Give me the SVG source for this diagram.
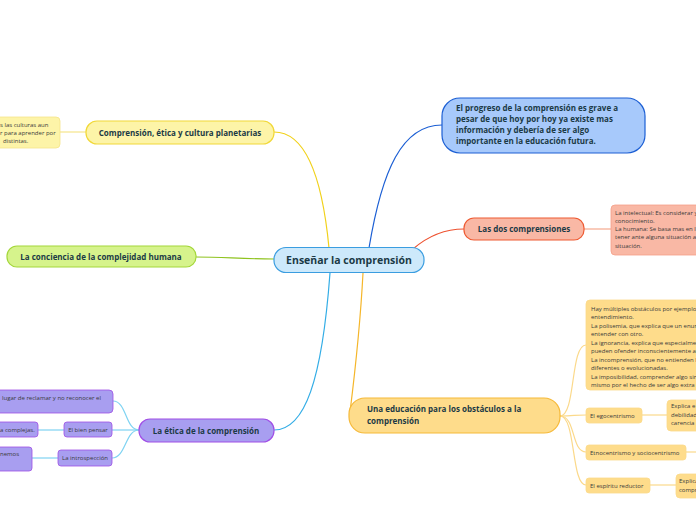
<svg xmlns="http://www.w3.org/2000/svg" width="696" height="520" viewBox="0 0 696 520">
<style>
text{font-family:"Open Sans","Noto Sans","Liberation Sans",sans-serif;}
.b{font-weight:bold;font-size:8px;fill:#1b3a45;}
.s{font-size:6px;fill:#3a3a3a;}
.c{fill:none;stroke-width:1.2;}
</style>
<rect width="696" height="520" fill="#ffffff"/>
<g id="connectors">
<path class="c" stroke="#1c5fd4" d="M369,248 C382,170 402,125 442,125"/>
<path class="c" stroke="#f1d11a" d="M329,248 C322,175 305,132 274,132"/>
<path class="c" stroke="#ee5230" d="M413,249 C428,236 444,229 464,229"/>
<path class="c" stroke="#8fc31f" d="M274,259 C240,259 225,257 196,257"/>
<path class="c" stroke="#33ade6" d="M330,273 C322,380 305,430 274,430"/>
<path class="c" stroke="#f5b62a" d="M363,273 C360,330 354,380 350,412"/>
<path class="c" stroke="#f5e48a" d="M86,132 L60,132"/>
<path class="c" stroke="#f6a88e" d="M584,229 L611,229"/>
<path class="c" stroke="#fbd98a" d="M560,416 C576,416 570,345 586,345"/>
<path class="c" stroke="#fbd98a" d="M560,416 C574,416 574,415 586,415"/>
<path class="c" stroke="#fbd98a" d="M560,416 C576,416 571,452 586,452"/>
<path class="c" stroke="#fbd98a" d="M560,416 C576,416 571,485 586,485"/>
<path class="c" stroke="#fbd98a" d="M642,415 L667,415"/>
<path class="c" stroke="#fbd98a" d="M686,452 L696,452"/>
<path class="c" stroke="#fbd98a" d="M650,485 L676,485"/>
<path class="c" stroke="#7fd3f2" d="M139,430 C125,430 127,401 113,401"/>
<path class="c" stroke="#7fd3f2" d="M139,430 L112,430"/>
<path class="c" stroke="#7fd3f2" d="M139,430 C125,430 126,458 112,458"/>
<path class="c" stroke="#7fd3f2" d="M64,430 L38,430"/>
<path class="c" stroke="#7fd3f2" d="M58,458 L32,458"/>
</g>
<g id="center">
<rect x="274" y="247.5" width="150" height="25" rx="12" fill="#cde9fb" stroke="#3a9de0" stroke-width="1.2"/>
<text x="349" y="264" text-anchor="middle" font-weight="bold" font-size="10.5" fill="#1b3a45">Enseñar la comprensión</text>
</g>
<g id="n-progreso">
<rect x="442" y="98" width="203" height="55" rx="18" fill="#a7c9fb" stroke="#1c5fd4" stroke-width="1.2"/>
<text class="b" x="456" y="111">El progreso de la comprensión es grave a</text>
<text class="b" x="456" y="122">pesar de que hoy por hoy ya existe mas</text>
<text class="b" x="456" y="133">información y debería de ser algo</text>
<text class="b" x="456" y="144">importante en la educación futura.</text>
</g>
<g id="n-dos">
<rect x="464" y="218" width="120" height="22" rx="10" fill="#f9b8a5" stroke="#ee5a32" stroke-width="1.2"/>
<text class="b" x="524" y="232" text-anchor="middle">Las dos comprensiones</text>
</g>
<g id="n-dos-txt">
<rect x="611" y="205" width="95" height="50" rx="4" fill="#f9b8a5" stroke="#f5a088" stroke-width="0.8"/>
<text class="s" x="615" y="215">La intelectual: Es considerar y</text>
<text class="s" x="615" y="223">conocimiento.</text>
<text class="s" x="615" y="231">La humana: Se basa mas en l</text>
<text class="s" x="615" y="239">tener ante alguna situación a</text>
<text class="s" x="615" y="248">situación.</text>
</g>
<g id="n-planetarias">
<rect x="86" y="121" width="188" height="23" rx="11" fill="#fdf4a8" stroke="#f1d838" stroke-width="1.2"/>
<text class="b" x="180" y="135.5" text-anchor="middle">Comprensión, ética y cultura planetarias</text>
</g>
<g id="n-planetarias-txt">
<rect x="-10" y="117" width="70" height="31" rx="4" fill="#fdf4a8" stroke="#f5e48a" stroke-width="0.8"/>
<text class="s" x="0" y="127">s las culturas aun</text>
<text class="s" x="0" y="135">r para aprender por</text>
<text class="s" x="3" y="143">distintas.</text>
</g>
<g id="n-conciencia">
<rect x="7" y="246" width="189" height="21" rx="10" fill="#d6f38c" stroke="#a4d73a" stroke-width="1.2"/>
<text class="b" x="101" y="259.5" text-anchor="middle">La conciencia de la complejidad humana</text>
</g>
<g id="n-etica">
<rect x="139" y="419" width="135" height="23" rx="11" fill="#a89ef0" stroke="#a04fe6" stroke-width="1.2"/>
<text class="b" x="206" y="433.5" text-anchor="middle">La ética de la comprensión</text>
</g>
<g id="n-reclamar">
<rect x="-10" y="390" width="123" height="23" rx="4" fill="#a89ef0" stroke="#a04fe6" stroke-width="0.8"/>
<text class="s" x="2" y="400">lugar de reclamar y no reconocer el</text>
</g>
<g id="n-bien">
<rect x="64" y="422" width="48" height="15" rx="3" fill="#a89ef0" stroke="#a04fe6" stroke-width="0.8"/>
<text class="s" x="88" y="431.5" text-anchor="middle">El bien pensar</text>
</g>
<g id="n-complejas">
<rect x="-10" y="422" width="48" height="15" rx="3" fill="#a89ef0" stroke="#a04fe6" stroke-width="0.8"/>
<text class="s" x="0" y="431.5">a complejas.</text>
</g>
<g id="n-intro">
<rect x="58" y="450" width="54" height="16" rx="3" fill="#a89ef0" stroke="#a04fe6" stroke-width="0.8"/>
<text class="s" x="85" y="460" text-anchor="middle">La introspección</text>
</g>
<g id="n-nemos">
<rect x="-10" y="447" width="42" height="24" rx="3" fill="#a89ef0" stroke="#a04fe6" stroke-width="0.8"/>
<text class="s" x="0" y="456">nemos</text>
</g>
<g id="n-obstaculos">
<rect x="349" y="398" width="211" height="35" rx="16" fill="#fedc8b" stroke="#f6b938" stroke-width="1.2"/>
<text class="b" x="367" y="412">Una educación para los obstáculos a la</text>
<text class="b" x="367" y="424">comprensión</text>
</g>
<g id="n-obst-txt">
<rect x="586" y="300" width="120" height="90" rx="4" fill="#fedc8b" stroke="#fbd98a" stroke-width="0.8"/>
<text class="s" x="591" y="311">Hay múltiples obstáculos por ejemplo</text>
<text class="s" x="591" y="319">entendimiento.</text>
<text class="s" x="591" y="328">La polisemia, que explica que un enun</text>
<text class="s" x="591" y="336">entender con otro.</text>
<text class="s" x="591" y="345">La ignorancia, explica que especialme</text>
<text class="s" x="591" y="353">pueden ofender inconscientemente al</text>
<text class="s" x="591" y="362">La incomprensión, que no entienden l</text>
<text class="s" x="591" y="370">diferentes o evolucionadas.</text>
<text class="s" x="591" y="379">La imposibilidad, comprender algo sin</text>
<text class="s" x="591" y="387">mismo por el hecho de ser algo extra</text>
</g>
<g id="n-ego">
<rect x="586" y="408" width="56" height="15" rx="3" fill="#fedc8b" stroke="#fbd98a" stroke-width="0.8"/>
<text class="s" x="590" y="417.5">El egocentrismo</text>
</g>
<g id="n-ego-txt">
<rect x="667" y="400" width="40" height="31" rx="4" fill="#fedc8b" stroke="#fbd98a" stroke-width="0.8"/>
<text class="s" x="671" y="408">Explica e</text>
<text class="s" x="671" y="416.5">debilidad</text>
<text class="s" x="671" y="425">carencia</text>
</g>
<g id="n-etno">
<rect x="586" y="445" width="100" height="15" rx="3" fill="#fedc8b" stroke="#fbd98a" stroke-width="0.8"/>
<text class="s" x="590" y="454.5">Etnocentrismo y sociocentrismo</text>
</g>
<g id="n-reductor">
<rect x="586" y="478" width="64" height="15" rx="3" fill="#fedc8b" stroke="#fbd98a" stroke-width="0.8"/>
<text class="s" x="590" y="487.5">El espíritu reductor</text>
</g>
<g id="n-reductor-txt">
<rect x="676" y="474" width="30" height="24" rx="4" fill="#fedc8b" stroke="#fbd98a" stroke-width="0.8"/>
<text class="s" x="679" y="483">Explica</text>
<text class="s" x="679" y="492">compr</text>
</g>
</svg>
